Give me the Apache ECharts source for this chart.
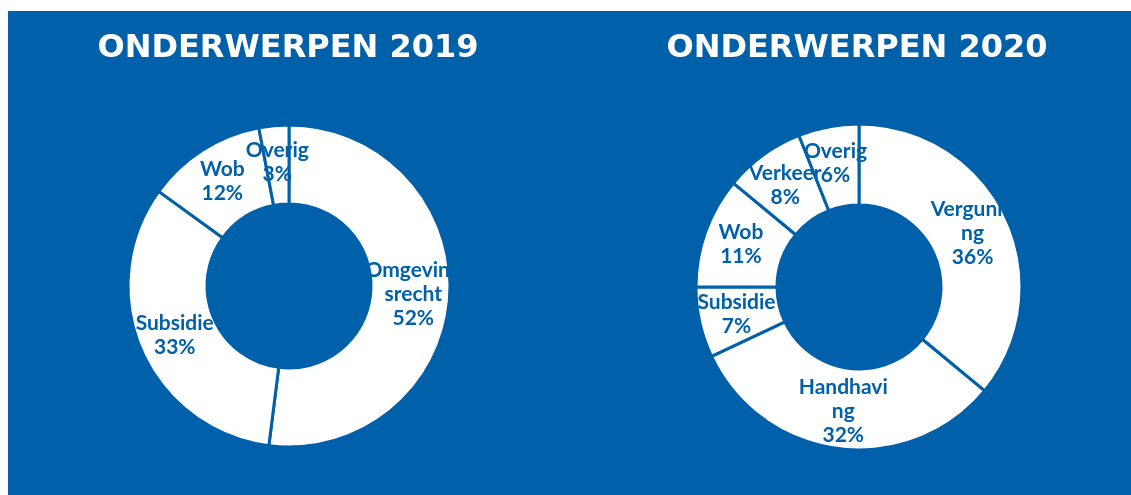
<!DOCTYPE html>
<html>
<head>
<meta charset="utf-8">
<script src="https://cdn.jsdelivr.net/npm/echarts@6/dist/echarts.min.js"></script>
<style>
  html, body { margin: 0; padding: 0; background: #fff; }
  #chart {
    position: absolute;
    left: 8px;
    top: 11px;
    width: 1123px;
    height: 484px;
  }
</style>
</head>
<body>
<div id="chart"></div>
<script>
// 2019
const labels2019 = ['Omgeving\nsrecht', 'Subsidie', 'Wob', 'Overig']
const values2019 = [52, 33, 12, 3]
// 2020
const labels2020 = ['Vergunni\nng', 'Handhavi\nng', 'Subsidie', 'Wob', 'Verkeer', 'Overig']
const values2020 = [36, 32, 7, 11, 8, 6]

const titles = ['ONDERWERPEN 2019', 'ONDERWERPEN 2020']

const blue = '#0160aa'

const chart = echarts.init(document.getElementById('chart'))

function makeSeries(labels, values, center, radius) {
  return {
    type: 'pie',
    center: center,
    radius: radius,
    startAngle: 90,
    clockwise: true,
    silent: true,
    avoidLabelOverlap: false,
    itemStyle: {
      color: '#ffffff',
      borderColor: blue,
      borderWidth: 3
    },
    label: {
      show: true,
      position: 'inside',
      color: blue,
      fontFamily: 'Lato',
      fontWeight: 'bold',
      fontSize: 21,
      lineHeight: 24,
      formatter: p => p.name + '\n' + p.value + '%'
    },
    labelLayout: { hideOverlap: false },
    labelLine: { show: false },
    data: labels.map((n, i) => ({ name: n, value: values[i] }))
  }
}

const titleStyle = { color: '#fff', fontFamily: 'DejaVu Sans', fontWeight: 'bold', fontSize: 32 }

const option = {
  backgroundColor: blue,
  animation: false,
  title: [
    { text: titles[0], left: 275, top: 17, textAlign: 'center', textStyle: titleStyle },
    { text: titles[1], left: 844, top: 17, textAlign: 'center', textStyle: titleStyle }
  ],
  series: [
    makeSeries(labels2019, values2019, [281, 275], [82, 161]),
    makeSeries(labels2020, values2020, [851, 276], [82, 163])
  ]
}

chart.setOption(option)
</script>
</body>
</html>
